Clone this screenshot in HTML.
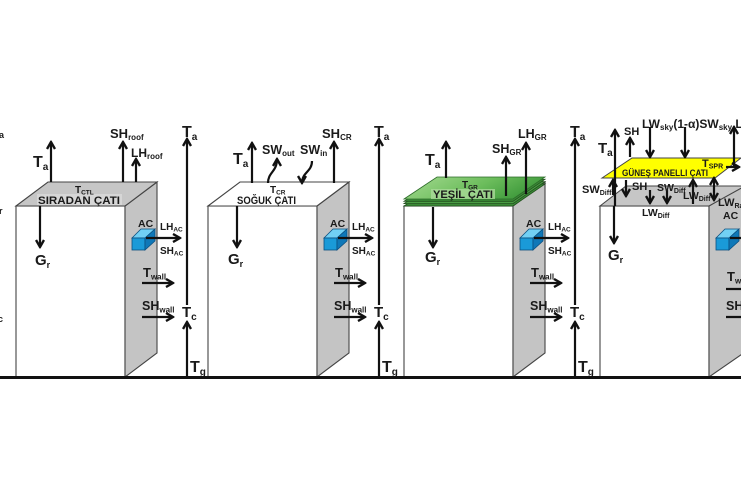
<!DOCTYPE html>
<html><head><meta charset="utf-8">
<style>
html,body{margin:0;padding:0;background:#fff;}
svg{display:block;}
text{font-family:"Liberation Sans",Arial,sans-serif;font-weight:bold;fill:#1a1a1a;}
.ln{stroke:#111;stroke-width:2.2;fill:none;}
.ob{stroke:#444;stroke-width:1.1;}
</style></head><body>
<svg width="741" height="486" viewBox="0 0 741 486" xmlns="http://www.w3.org/2000/svg">
<defs>
<marker id="h" viewBox="0 0 10 10" refX="8.5" refY="5" markerWidth="10" markerHeight="10" orient="auto-start-reverse" markerUnits="userSpaceOnUse"><path d="M1.5,1 L8.5,5 L1.5,9" fill="none" stroke="#111" stroke-width="2.4"/></marker>
<linearGradient id="gg" x1="0" y1="0" x2="1" y2="0.3">
<stop offset="0" stop-color="#a6db92"/><stop offset="0.6" stop-color="#6cbd5c"/><stop offset="1" stop-color="#3f9a3c"/>
</linearGradient>
</defs>

<!-- left edge fragments -->
<text x="-1" y="138" font-size="9">a</text>
<text x="-1" y="214" font-size="9">r</text>
<text x="-2" y="322" font-size="9">c</text>

<!-- ================= Building 1 ================= -->
<g>
<rect x="16" y="206" width="109" height="171" fill="#fff" class="ob"/>
<polygon points="125,206 157,182 157,353 125,377" fill="#c4c4c4" class="ob"/>
<polygon points="132,238 141,229 155,229 145,238" fill="#72d0f4" stroke="#0b4f80" stroke-width="0.8"/>
<rect x="132" y="238" width="13" height="12" fill="#1a9ad8" stroke="#0b4f80" stroke-width="0.8"/>
<polygon points="145,238 155,229 155,241 145,250" fill="#0f78b8" stroke="#0b4f80" stroke-width="0.8"/>
<line x1="146" y1="238" x2="180" y2="238" class="ln" marker-end="url(#h)"/>
<text x="138" y="227" font-size="10.5">AC</text>
<text x="160" y="230" font-size="10">LH<tspan font-size="6.5" dy="1.5">AC</tspan></text>
<text x="160" y="254" font-size="10">SH<tspan font-size="6.5" dy="1.5">AC</tspan></text>
<line x1="142" y1="283" x2="173" y2="283" class="ln" marker-end="url(#h)"/>
<text x="143" y="277" font-size="13">T<tspan font-size="8" dy="2.5">wall</tspan></text>
<line x1="142" y1="317" x2="173" y2="317" class="ln" marker-end="url(#h)"/>
<text x="142" y="310" font-size="12.5">SH<tspan font-size="8" dy="2.5">wall</tspan></text>
<line x1="187" y1="305" x2="187" y2="139" class="ln" marker-end="url(#h)"/>
<line x1="187" y1="377" x2="187" y2="322" class="ln" marker-end="url(#h)"/>
<text x="182" y="137" font-size="16">T<tspan font-size="10" dy="3">a</tspan></text>
<text x="182" y="317" font-size="15">T<tspan font-size="10" dy="3">c</tspan></text>
<text x="190" y="372" font-size="16">T<tspan font-size="10" dy="3">g</tspan></text>
</g>
<polygon points="16,206 48,182 157,182 125,206" fill="#c6c6c6" class="ob"/>
<rect x="37" y="194" width="85" height="11" fill="#d6d6d6"/>
<text x="38" y="204" font-size="11" textLength="82" lengthAdjust="spacingAndGlyphs">SIRADAN ÇATI</text>
<text x="75" y="193" font-size="10">T<tspan font-size="6.5" dy="1.5">CTL</tspan></text>
<line x1="51" y1="182" x2="51" y2="142" class="ln" marker-end="url(#h)"/>
<line x1="123" y1="182" x2="123" y2="142" class="ln" marker-end="url(#h)"/>
<line x1="136" y1="182" x2="136" y2="159" class="ln" marker-end="url(#h)"/>
<line x1="40" y1="206" x2="40" y2="247" class="ln" marker-end="url(#h)"/>
<text x="33" y="167" font-size="16">T<tspan font-size="10" dy="3">a</tspan></text>
<text x="110" y="138" font-size="13">SH<tspan font-size="8" dy="2">roof</tspan></text>
<text x="131" y="157" font-size="12">LH<tspan font-size="8" dy="2">roof</tspan></text>
<text x="35" y="265" font-size="15">G<tspan font-size="9" dy="3">r</tspan></text>

<!-- ================= Building 2 ================= -->
<g transform="translate(192,0)">
<rect x="16" y="206" width="109" height="171" fill="#fff" class="ob"/>
<polygon points="125,206 157,182 157,353 125,377" fill="#c4c4c4" class="ob"/>
<polygon points="132,238 141,229 155,229 145,238" fill="#72d0f4" stroke="#0b4f80" stroke-width="0.8"/>
<rect x="132" y="238" width="13" height="12" fill="#1a9ad8" stroke="#0b4f80" stroke-width="0.8"/>
<polygon points="145,238 155,229 155,241 145,250" fill="#0f78b8" stroke="#0b4f80" stroke-width="0.8"/>
<line x1="146" y1="238" x2="180" y2="238" class="ln" marker-end="url(#h)"/>
<text x="138" y="227" font-size="10.5">AC</text>
<text x="160" y="230" font-size="10">LH<tspan font-size="6.5" dy="1.5">AC</tspan></text>
<text x="160" y="254" font-size="10">SH<tspan font-size="6.5" dy="1.5">AC</tspan></text>
<line x1="142" y1="283" x2="173" y2="283" class="ln" marker-end="url(#h)"/>
<text x="143" y="277" font-size="13">T<tspan font-size="8" dy="2.5">wall</tspan></text>
<line x1="142" y1="317" x2="173" y2="317" class="ln" marker-end="url(#h)"/>
<text x="142" y="310" font-size="12.5">SH<tspan font-size="8" dy="2.5">wall</tspan></text>
<line x1="187" y1="305" x2="187" y2="139" class="ln" marker-end="url(#h)"/>
<line x1="187" y1="377" x2="187" y2="322" class="ln" marker-end="url(#h)"/>
<text x="182" y="137" font-size="16">T<tspan font-size="10" dy="3">a</tspan></text>
<text x="182" y="317" font-size="15">T<tspan font-size="10" dy="3">c</tspan></text>
<text x="190" y="372" font-size="16">T<tspan font-size="10" dy="3">g</tspan></text>
</g>
<polygon points="208,206 240,182 349,182 317,206" fill="#fff" class="ob"/>
<text x="237" y="204" font-size="11" textLength="59" lengthAdjust="spacingAndGlyphs">SOĞUK ÇATI</text>
<text x="270" y="193" font-size="10">T<tspan font-size="6.5" dy="1.5">CR</tspan></text>
<line x1="252" y1="183" x2="252" y2="143" class="ln" marker-end="url(#h)"/>
<line x1="334" y1="183" x2="334" y2="142" class="ln" marker-end="url(#h)"/>
<line x1="237" y1="206" x2="237" y2="247" class="ln" marker-end="url(#h)"/>
<path d="M268,183 C268,172 277,172 277,159" class="ln" marker-end="url(#h)"/>
<path d="M312,161 C312,172 302,172 302,183" class="ln" marker-end="url(#h)"/>
<text x="233" y="164" font-size="16">T<tspan font-size="10" dy="3">a</tspan></text>
<text x="262" y="154" font-size="12.5">SW<tspan font-size="8" dy="2">out</tspan></text>
<text x="300" y="154" font-size="12.5">SW<tspan font-size="8" dy="2">in</tspan></text>
<text x="322" y="138" font-size="13">SH<tspan font-size="8" dy="2">CR</tspan></text>
<text x="228" y="264" font-size="15">G<tspan font-size="9" dy="3">r</tspan></text>

<!-- ================= Building 3 ================= -->
<g transform="translate(388,0)">
<rect x="16" y="206" width="109" height="171" fill="#fff" class="ob"/>
<polygon points="125,206 157,182 157,353 125,377" fill="#c4c4c4" class="ob"/>
<polygon points="132,238 141,229 155,229 145,238" fill="#72d0f4" stroke="#0b4f80" stroke-width="0.8"/>
<rect x="132" y="238" width="13" height="12" fill="#1a9ad8" stroke="#0b4f80" stroke-width="0.8"/>
<polygon points="145,238 155,229 155,241 145,250" fill="#0f78b8" stroke="#0b4f80" stroke-width="0.8"/>
<line x1="146" y1="238" x2="180" y2="238" class="ln" marker-end="url(#h)"/>
<text x="138" y="227" font-size="10.5">AC</text>
<text x="160" y="230" font-size="10">LH<tspan font-size="6.5" dy="1.5">AC</tspan></text>
<text x="160" y="254" font-size="10">SH<tspan font-size="6.5" dy="1.5">AC</tspan></text>
<line x1="142" y1="283" x2="173" y2="283" class="ln" marker-end="url(#h)"/>
<text x="143" y="277" font-size="13">T<tspan font-size="8" dy="2.5">wall</tspan></text>
<line x1="142" y1="317" x2="173" y2="317" class="ln" marker-end="url(#h)"/>
<text x="142" y="310" font-size="12.5">SH<tspan font-size="8" dy="2.5">wall</tspan></text>
<line x1="187" y1="305" x2="187" y2="139" class="ln" marker-end="url(#h)"/>
<line x1="187" y1="377" x2="187" y2="322" class="ln" marker-end="url(#h)"/>
<text x="182" y="137" font-size="16">T<tspan font-size="10" dy="3">a</tspan></text>
<text x="182" y="317" font-size="15">T<tspan font-size="10" dy="3">c</tspan></text>
<text x="190" y="372" font-size="16">T<tspan font-size="10" dy="3">g</tspan></text>
</g>
<polygon points="404,206 437,184 545,184 513,206" fill="#3a8a36" stroke="#23521f" stroke-width="0.8"/>
<polygon points="404,203.6 437,181.6 545,181.6 513,203.6" fill="#4a9c44" stroke="#23521f" stroke-width="0.8"/>
<polygon points="404,201.3 437,179.3 545,179.3 513,201.3" fill="#3a8a36" stroke="#23521f" stroke-width="0.8"/>
<polygon points="404,199 437,177 545,177 513,199" fill="url(#gg)" stroke="#2d6b2a" stroke-width="0.8"/>
<rect x="431" y="189" width="64" height="10" fill="#a9da98" opacity="0.8"/>
<text x="433" y="198" font-size="11" textLength="60" lengthAdjust="spacingAndGlyphs">YEŞİL ÇATI</text>
<text x="462" y="188" font-size="10">T<tspan font-size="6.5" dy="1.5">GR</tspan></text>
<line x1="446" y1="178" x2="446" y2="142" class="ln" marker-end="url(#h)"/>
<line x1="506" y1="196" x2="506" y2="157" class="ln" marker-end="url(#h)"/>
<line x1="526" y1="194" x2="526" y2="143" class="ln" marker-end="url(#h)"/>
<line x1="433" y1="207" x2="433" y2="247" class="ln" marker-end="url(#h)"/>
<text x="425" y="165" font-size="16">T<tspan font-size="10" dy="3">a</tspan></text>
<text x="492" y="153" font-size="12.5">SH<tspan font-size="8" dy="2">GR</tspan></text>
<text x="518" y="138" font-size="12.5">LH<tspan font-size="8" dy="2">GR</tspan></text>
<text x="425" y="262" font-size="15">G<tspan font-size="9" dy="3">r</tspan></text>

<!-- ================= Building 4 ================= -->
<rect x="600" y="206" width="109" height="171" fill="#fff" class="ob"/>
<polygon points="709,206 745,184 745,352 709,377" fill="#c4c4c4" class="ob"/>
<polygon points="600,206 626,186 745,186 709,206" fill="#c6c6c6" class="ob"/>
<g transform="translate(584,0)">
<polygon points="132,238 141,229 155,229 145,238" fill="#72d0f4" stroke="#0b4f80" stroke-width="0.8"/>
<rect x="132" y="238" width="13" height="12" fill="#1a9ad8" stroke="#0b4f80" stroke-width="0.8"/>
<polygon points="145,238 155,229 155,241 145,250" fill="#0f78b8" stroke="#0b4f80" stroke-width="0.8"/>
<line x1="146" y1="238" x2="180" y2="238" class="ln" marker-end="url(#h)"/>
<line x1="142" y1="289" x2="173" y2="289" class="ln"/>
<text x="143" y="281" font-size="13">T<tspan font-size="8" dy="2.5">wall</tspan></text>
<line x1="142" y1="317" x2="173" y2="317" class="ln"/>
<text x="142" y="310" font-size="12.5">SH<tspan font-size="8" dy="2.5">wall</tspan></text>
</g>
<polygon points="602,178 632,158 741,158 715,178" fill="#ffff00" stroke="#444" stroke-width="1"/>
<text x="622" y="176" font-size="9" textLength="86" lengthAdjust="spacingAndGlyphs">GÜNEŞ PANELLI ÇATI</text>
<text x="702" y="167" font-size="11">T<tspan font-size="7" dy="1.5">SPR</tspan></text>
<line x1="615" y1="206" x2="615" y2="130" class="ln" marker-end="url(#h)"/>
<line x1="630" y1="157" x2="630" y2="138" class="ln" marker-end="url(#h)"/>
<line x1="650" y1="127" x2="650" y2="157" class="ln" marker-end="url(#h)"/>
<line x1="685" y1="127" x2="685" y2="157" class="ln" marker-end="url(#h)"/>
<line x1="734" y1="168" x2="734" y2="127" class="ln" marker-end="url(#h)"/>
<line x1="726" y1="167" x2="739" y2="167" class="ln" marker-end="url(#h)"/>
<text x="598" y="153" font-size="15">T<tspan font-size="10" dy="3">a</tspan></text>
<text x="624" y="135" font-size="11">SH</text>
<text x="642" y="128" font-size="12">LW<tspan font-size="8" dy="2">sky</tspan><tspan dy="-2">(1-α)SW</tspan><tspan font-size="8" dy="2">sky</tspan><tspan dy="-2"> LW</tspan></text>
<!-- between panel and roof -->
<line x1="613" y1="195" x2="613" y2="180" class="ln" marker-end="url(#h)"/>
<line x1="626" y1="180" x2="626" y2="196" class="ln" marker-end="url(#h)"/>
<line x1="650" y1="190" x2="650" y2="203" class="ln" marker-end="url(#h)"/>
<line x1="667" y1="190" x2="667" y2="203" class="ln" marker-end="url(#h)"/>
<line x1="693" y1="204" x2="693" y2="180" class="ln" marker-end="url(#h)"/>
<line x1="714" y1="178" x2="714" y2="200" class="ln" marker-start="url(#h)" marker-end="url(#h)"/>
<text x="582" y="193" font-size="11">SW<tspan font-size="7" dy="2">Diff</tspan></text>
<text x="632" y="190" font-size="11">SH</text>
<text x="657" y="191" font-size="10.5">SW<tspan font-size="7" dy="2">Diff</tspan></text>
<text x="683" y="199" font-size="10.5">LW<tspan font-size="7" dy="2">Diff</tspan></text>
<text x="642" y="216" font-size="10.5">LW<tspan font-size="7" dy="2">Diff</tspan></text>
<text x="718" y="206" font-size="11">LW<tspan font-size="7" dy="2">Ra</tspan></text>
<text x="723" y="219" font-size="10.5">AC</text>
<line x1="614" y1="206" x2="614" y2="243" class="ln" marker-end="url(#h)"/>
<text x="608" y="260" font-size="15">G<tspan font-size="9" dy="3">r</tspan></text>

<!-- ground -->
<line x1="0" y1="377.5" x2="741" y2="377.5" stroke="#111" stroke-width="3"/>
</svg>
</body></html>
